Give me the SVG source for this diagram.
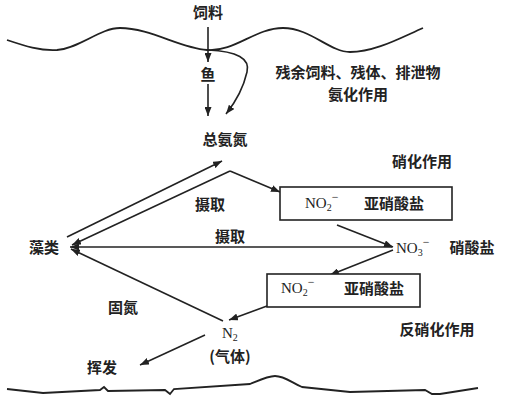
<svg xmlns="http://www.w3.org/2000/svg" width="509" height="406" viewBox="0 0 509 406">
<style>
.t{font-family:"Noto Sans CJK SC","Noto Sans",sans-serif;font-size:15px;font-weight:bold;fill:#222;text-anchor:middle}
.f{font-family:"Liberation Serif",serif;font-size:15px;fill:#222}
.c{stroke:#222;stroke-width:1.6;fill:none}
.b{stroke:#222;stroke-width:1.6;fill:#fff}
.w{stroke:#222;stroke-width:1.8;fill:none}
</style>
<defs>
<marker id="a" viewBox="0 0 9 7" refX="9" refY="3.5" markerWidth="9" markerHeight="7" markerUnits="userSpaceOnUse" orient="auto">
<path d="M0,0 L9,3.5 L0,7 z" fill="#222"/>
</marker>
</defs>
<rect width="509" height="406" fill="#fff"/>
<g id="water-surface">
<path class="w" d="M7,40 C25,46 40,51 57,50 C80,48 100,28 120,28 C150,28 180,48 207,50 C235,52 255,28 283,28 C310,28 330,52 350,52 C375,52 400,38 423,28"/>
</g>
<g id="bottom">
<path class="w" d="M7,389 L43,393 L100,390 L104,387 L108,391 L165,390 L170,394 L174,389 L250,384 C262,379 268,376 275,376 C285,376 292,383 302,387 L350,392 L425,390 L432,394 L440,394 L478,388"/>
</g>
<g id="connectors">
<line class="c" x1="208" y1="27" x2="208" y2="62" marker-end="url(#a)"/>
<line class="c" x1="208" y1="84" x2="208" y2="116" marker-end="url(#a)"/>
<path class="c" d="M208,50 Q252,52 247,72 Q242,94 226,114" marker-end="url(#a)"/>
<line class="c" x1="67" y1="237" x2="222" y2="161" marker-end="url(#a)"/>
<path class="c" d="M230,171 L72,245" marker-end="url(#a)"/>
<line class="c" x1="230" y1="171" x2="280" y2="192" marker-end="url(#a)"/>
<line class="c" x1="392" y1="247" x2="70" y2="247" marker-end="url(#a)"/>
<line class="c" x1="337" y1="225" x2="393" y2="247" marker-end="url(#a)"/>
<line class="c" x1="393" y1="250" x2="330" y2="275" marker-end="url(#a)"/>
<line class="c" x1="267" y1="306" x2="229" y2="320" marker-end="url(#a)"/>
<line class="c" x1="223" y1="321" x2="71" y2="249" marker-end="url(#a)"/>
<line class="c" x1="205" y1="335" x2="140" y2="365" marker-end="url(#a)"/>
</g>
<g id="n-feed"><text class="t" x="208" y="18">饲料</text></g>
<g id="n-fish"><text class="t" x="208" y="80">鱼</text></g>
<g id="n-waste"><text class="t" x="358" y="78">残余饲料、残体、排泄物</text><text class="t" x="358" y="100">氨化作用</text></g>
<g id="n-tan"><text class="t" x="225" y="145">总氨氮</text></g>
<g id="n-nitrif"><text class="t" x="422" y="167">硝化作用</text></g>
<g id="l-uptake1"><text class="t" x="210" y="210">摄取</text></g>
<g id="l-uptake2"><text class="t" x="230" y="242">摄取</text></g>
<g id="n-algae"><text class="t" x="44" y="253">藻类</text></g>
<g id="n-nitrite1">
<rect class="b" x="280" y="187" width="172" height="33"/>
<text class="f" x="305" y="208">NO<tspan font-size="10" dy="3">2</tspan><tspan font-size="12" dy="-10">−</tspan></text>
<text class="t" x="394" y="209">亚硝酸盐</text>
</g>
<g id="n-nitrate">
<text class="f" x="396" y="253">NO<tspan font-size="10" dy="3">3</tspan><tspan font-size="12" dy="-10">−</tspan></text>
<text class="t" x="472" y="253">硝酸盐</text>
</g>
<g id="n-nitrite2">
<rect class="b" x="267" y="274" width="153" height="33"/>
<text class="f" x="281" y="293">NO<tspan font-size="10" dy="3">2</tspan><tspan font-size="12" dy="-10">−</tspan></text>
<text class="t" x="374" y="294">亚硝酸盐</text>
</g>
<g id="l-fix"><text class="t" x="123" y="313">固氮</text></g>
<g id="n-n2">
<text class="f" x="222" y="338">N<tspan font-size="10" dy="3">2</tspan></text>
<text class="t" x="230" y="362">(气体)</text>
</g>
<g id="n-denitrif"><text class="t" x="437" y="335">反硝化作用</text></g>
<g id="n-volat"><text class="t" x="102" y="373">挥发</text></g>
</svg>
